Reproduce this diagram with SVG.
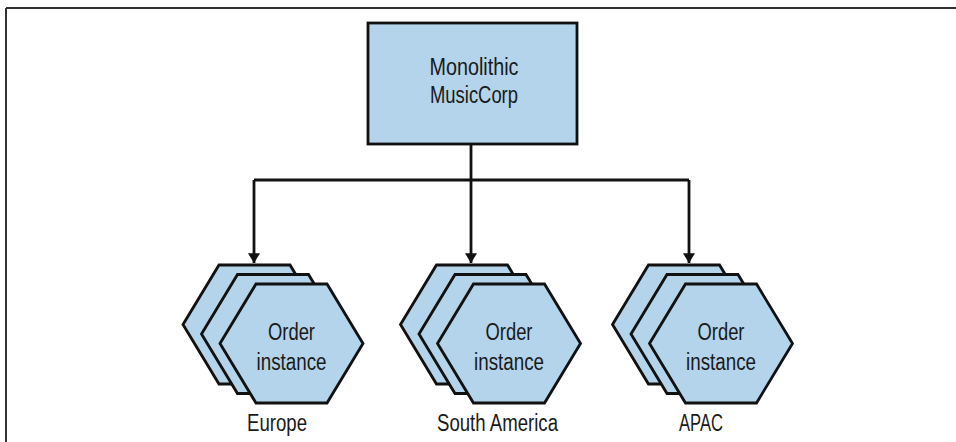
<svg xmlns="http://www.w3.org/2000/svg" width="956" height="442" viewBox="0 0 956 442">
  <style>
    .frame { stroke: #333; stroke-width: 2; fill: none; }
    .box { fill: #b3d4ea; stroke: #111; stroke-width: 2.8; }
    .hex { fill: #b3d4ea; stroke: #111; stroke-width: 2.8; stroke-linejoin: miter; }
    .conn { fill: none; stroke: #111; stroke-width: 2.8; }
    text { font-family: "Liberation Sans", Arial, sans-serif; font-size: 23px; fill: #1a1a1a; }
    .c { text-anchor: middle; }
  </style>
  <defs>
    <polygon id="hexshape" points="-71.5,0 -35.5,-59.5 35.5,-59.5 71.5,0 35.5,59.5 -35.5,59.5"/>
    <marker id="arrow" markerWidth="14" markerHeight="12" viewBox="0 0 11 13" refX="10.5" refY="6.5" orient="auto" markerUnits="userSpaceOnUse">
      <path d="M0,0 L10.5,6.5 L0,13 Z" fill="#111"/>
    </marker>
  </defs>

  <g id="frame">
    <line class="frame" x1="6" y1="8" x2="956" y2="8"/>
    <line class="frame" x1="6" y1="8" x2="6" y2="442"/>
  </g>

  <g id="connectors">
    <path class="conn" d="M471,144 V263" marker-end="url(#arrow)"/>
    <path class="conn" d="M254,180 H689"/>
    <path class="conn" d="M254,180 V263" marker-end="url(#arrow)"/>
    <path class="conn" d="M689,180 V263" marker-end="url(#arrow)"/>
  </g>

  <g id="monolith">
    <rect class="box" x="368" y="23" width="209" height="121"/>
    <text class="c" x="474" y="75" textLength="89" lengthAdjust="spacingAndGlyphs">Monolithic</text>
    <text class="c" x="474" y="103" textLength="88" lengthAdjust="spacingAndGlyphs">MusicCorp</text>
  </g>

  <g id="europe">
    <use href="#hexshape" class="hex" x="254.5" y="324.5"/>
    <use href="#hexshape" class="hex" x="273" y="334"/>
    <use href="#hexshape" class="hex" x="291.5" y="343.5"/>
    <text class="c" x="291.5" y="340" textLength="47" lengthAdjust="spacingAndGlyphs">Order</text>
    <text class="c" x="291.5" y="370" textLength="70" lengthAdjust="spacingAndGlyphs">instance</text>
    <text x="247" y="431" textLength="60" lengthAdjust="spacingAndGlyphs">Europe</text>
  </g>

  <g id="south-america">
    <use href="#hexshape" class="hex" x="472" y="324.5"/>
    <use href="#hexshape" class="hex" x="490.5" y="334"/>
    <use href="#hexshape" class="hex" x="509" y="343.5"/>
    <text class="c" x="509" y="340" textLength="47" lengthAdjust="spacingAndGlyphs">Order</text>
    <text class="c" x="509" y="370" textLength="70" lengthAdjust="spacingAndGlyphs">instance</text>
    <text x="437" y="431" textLength="121" lengthAdjust="spacingAndGlyphs">South America</text>
  </g>

  <g id="apac">
    <use href="#hexshape" class="hex" x="684" y="324.5"/>
    <use href="#hexshape" class="hex" x="702.5" y="334"/>
    <use href="#hexshape" class="hex" x="721" y="343.5"/>
    <text class="c" x="721" y="340" textLength="47" lengthAdjust="spacingAndGlyphs">Order</text>
    <text class="c" x="721" y="370" textLength="70" lengthAdjust="spacingAndGlyphs">instance</text>
    <text x="679" y="431" textLength="44" lengthAdjust="spacingAndGlyphs">APAC</text>
  </g>
</svg>
